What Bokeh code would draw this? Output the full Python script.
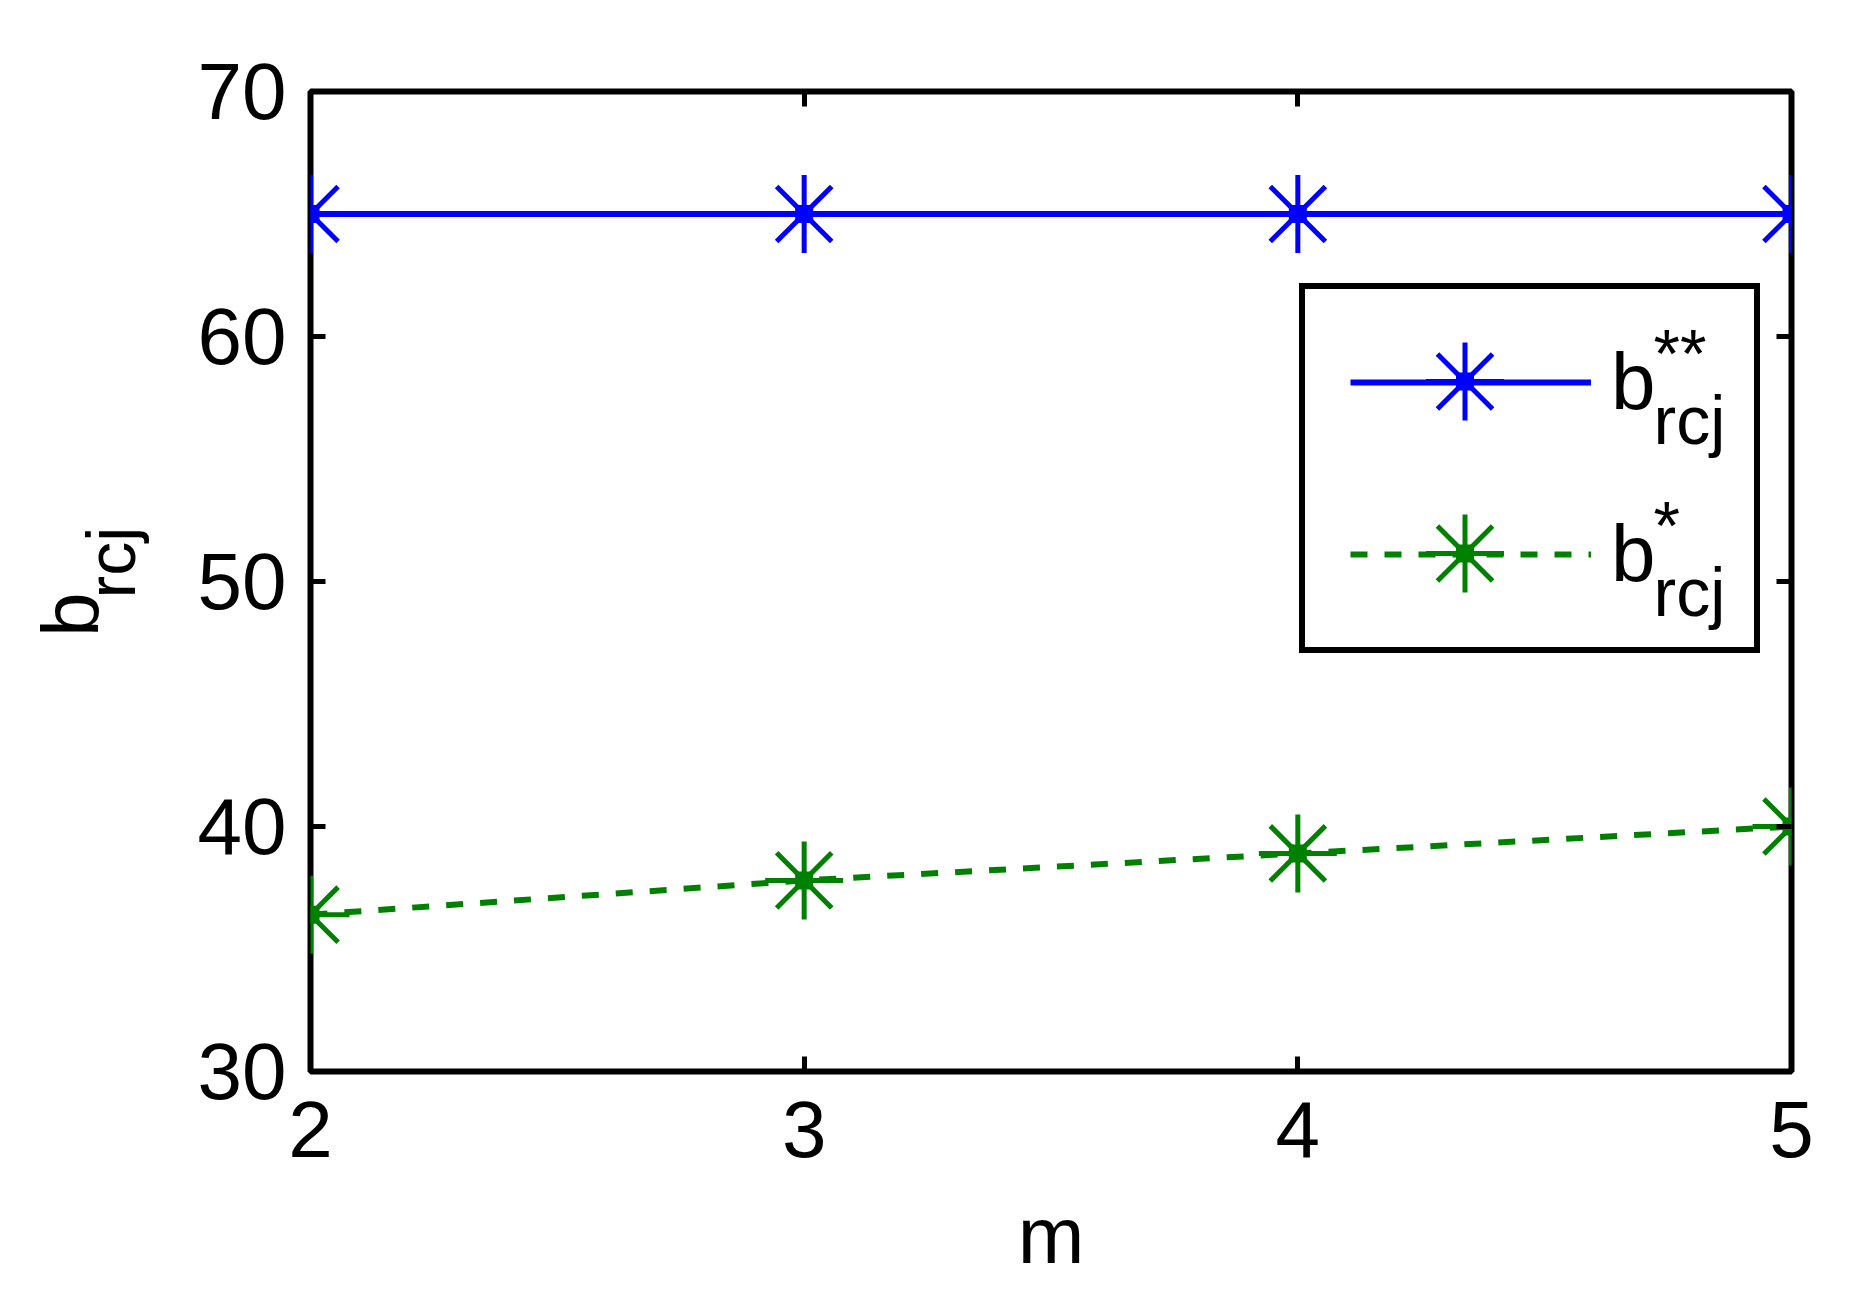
from bokeh.plotting import figure
from bokeh.models import (Range1d, FixedTicker, LinearAxis, Label, Legend,
                          LegendItem, ColumnDataSource)
from bokeh.embed import file_html
from bokeh.resources import INLINE

# ---- data ----
m_values = [2, 3, 4, 5]
b_rcj_double_star = [65, 65, 65, 65]
b_rcj_star = [36.4, 37.8, 38.9, 40.0]
x_ticks = [2, 3, 4, 5]
y_ticks = [30, 40, 50, 60, 70]
series_sup = ["**", "*"]
x_label = "m"
y_label_main = "b"
y_label_sub = "rcj"

# ---- style / layout ----
FONT = "Liberation Sans"
BLUE = "#0000ff"
GREEN = "#008000"
X0, X1 = 2, 5
Y0, Y1 = 30, 70
FRAME_W, FRAME_H = 1481, 980
BIG = "80px"
SMALL = "68px"
NB = "\u00a0"

p = figure(frame_width=FRAME_W, frame_height=FRAME_H,
           x_range=Range1d(X0, X1), y_range=Range1d(Y0, Y1),
           output_backend="svg", toolbar_location=None,
           min_border_left=310, min_border_right=61,
           min_border_top=91, min_border_bottom=227,
           background_fill_color="white", border_fill_color="white")
p.outline_line_color = "black"
p.outline_line_width = 6
p.xgrid.visible = False
p.ygrid.visible = False

def style_axis(ax, ticks, show_labels, standoff):
    ax.ticker = FixedTicker(ticks=ticks)
    ax.axis_line_color = None
    ax.major_tick_in = 15
    ax.major_tick_out = 0
    ax.major_tick_line_width = 5
    ax.major_tick_line_color = "black"
    ax.minor_tick_line_color = None
    ax.major_label_text_font = FONT
    ax.major_label_text_font_size = BIG
    ax.major_label_standoff = standoff
    ax.major_label_text_color = "black" if show_labels else None
    ax.axis_label_text_font = FONT
    ax.axis_label_text_font_style = "normal"
    ax.axis_label_text_color = "black"

xax = p.xaxis[0]
yax = p.yaxis[0]
style_axis(xax, x_ticks, True, 30)
style_axis(yax, y_ticks, True, 24)
xax.axis_label = x_label
xax.axis_label_text_font_size = BIG
xax.axis_label_standoff = 31

# subscript of the y label sits on the inner axis, the main letter on an outer one
yax.axis_label = NB * 2 + y_label_sub
yax.axis_label_text_font_size = SMALL
yax.axis_label_standoff = 46
outer_y = LinearAxis()
style_axis(outer_y, [], False, 0)
outer_y.major_tick_in = 0
outer_y.axis_label = y_label_main + NB * 3
outer_y.axis_label_text_font_size = BIG
outer_y.axis_label_standoff = -45
p.add_layout(outer_y, "left")

right_ax = LinearAxis()
style_axis(right_ax, y_ticks, False, 0)
p.add_layout(right_ax, "right")
top_ax = LinearAxis()
style_axis(top_ax, x_ticks, False, 0)
p.add_layout(top_ax, "above")

# ---- series ----
src_a = ColumnDataSource(dict(x=m_values, y=b_rcj_double_star))
src_b = ColumnDataSource(dict(x=m_values, y=b_rcj_star))

MK = 78
MKW = 5
line_a = p.line("x", "y", source=src_a, line_color=BLUE, line_width=6)
p.scatter("x", "y", source=src_a, marker="asterisk", size=MK, line_color=BLUE, line_width=MKW)
p.scatter("x", "y", source=src_a, marker="square", size=16, fill_color=BLUE, line_color=BLUE, line_width=2)

line_b = p.line("x", "y", source=src_b, line_color=GREEN, line_width=6, line_dash="17 17")
p.scatter("x", "y", source=src_b, marker="asterisk", size=MK, line_color=GREEN, line_width=MKW)
p.scatter("x", "y", source=src_b, marker="square", size=16, fill_color=GREEN, line_color=GREEN, line_width=2)

# ---- legend ----
LEG_LEFT, LEG_BOTTOM, LEG_H = 989, 418, 365
PAD, GW, GH, SPACING, STANDOFF, LABEL_W = 45, 241, 96, 76, 20, 98
legend = Legend(items=[LegendItem(label="b", renderers=[line_a]),
                       LegendItem(label="b", renderers=[line_b])],
                location=(LEG_LEFT, LEG_BOTTOM), orientation="vertical",
                glyph_width=GW, glyph_height=GH, label_height=GH,
                label_width=LABEL_W, label_standoff=STANDOFF,
                padding=PAD, spacing=SPACING, margin=0,
                border_line_color="black", border_line_width=6, border_line_alpha=1.0,
                background_fill_alpha=0.0,
                label_text_font=FONT, label_text_font_size=BIG,
                label_text_color="black")
p.add_layout(legend)

leg_top = LEG_BOTTOM + LEG_H
row_centers = [leg_top - PAD - GH / 2 - i * (GH + SPACING) for i in range(2)]
mk_sx = LEG_LEFT + PAD + GW / 2

def sx_to_x(sx):
    return X0 + sx / FRAME_W * (X1 - X0)

def sy_to_y(sy):
    return Y0 + sy / FRAME_H * (Y1 - Y0)

leg_src = ColumnDataSource(dict(x=[sx_to_x(mk_sx)] * 2,
                                y=[sy_to_y(c) for c in row_centers],
                                c=[BLUE, GREEN]))
p.scatter("x", "y", source=leg_src, marker="asterisk", size=MK, line_color="c", line_width=MKW)
p.scatter("x", "y", source=leg_src, marker="square", size=16, fill_color="c", line_color="c", line_width=2)

text_x = LEG_LEFT + PAD + GW + STANDOFF + 48
for i, sup in enumerate(series_sup):
    rc = row_centers[i]
    p.add_layout(Label(x=text_x, y=rc - 38, x_units="screen", y_units="screen",
                       text=y_label_sub, text_font=FONT, text_font_size=SMALL,
                       text_baseline="alphabetic", text_align="left", text_color="black"))
    p.add_layout(Label(x=text_x, y=rc + 29, x_units="screen", y_units="screen",
                       text=sup, text_font=FONT, text_font_size=SMALL,
                       text_baseline="alphabetic", text_align="left", text_color="black"))

open("out.html", "w").write(file_html(p, INLINE))
